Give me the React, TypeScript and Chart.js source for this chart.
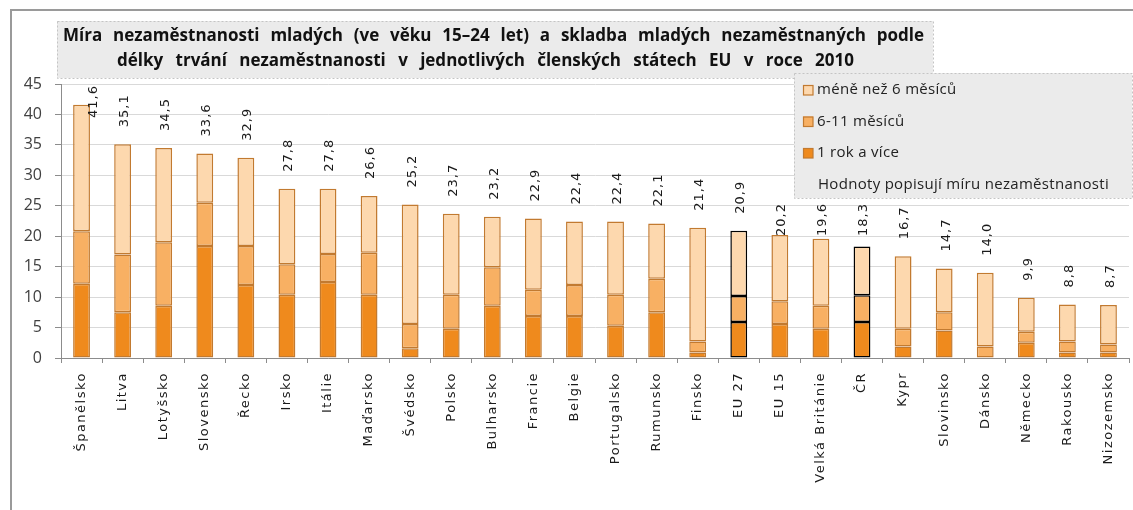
import React, { useEffect, useRef } from "react";
import { Chart, registerables } from "chart.js";
Chart.register(...registerables);

const categories = [
  "Španělsko", "Litva", "Lotyšsko", "Slovensko", "Řecko", "Irsko", "Itálie", "Maďarsko",
  "Švédsko", "Polsko", "Bulharsko", "Francie", "Belgie", "Portugalsko", "Rumunsko", "Finsko",
  "EU 27", "EU 15", "Velká Británie", "ČR", "Kypr", "Slovinsko", "Dánsko", "Německo",
  "Rakousko", "Nizozemsko",
];
// 1 rok a více
const longTerm = [12.2, 7.5, 8.6, 18.4, 12.0, 10.4, 12.5, 10.4, 1.6, 4.8, 8.6, 6.9, 6.9, 5.3, 7.5, 0.9, 5.9, 5.6, 4.8, 5.9, 1.9, 4.5, 0.0, 2.5, 0.9, 0.9];
// 6-11 měsíců
const midTerm = [8.6, 9.5, 10.4, 7.1, 6.4, 5.0, 4.6, 6.9, 4.0, 5.6, 6.3, 4.3, 5.1, 5.1, 5.5, 1.8, 4.3, 3.7, 3.8, 4.4, 2.9, 3.0, 1.9, 1.8, 1.8, 1.3];
// méně než 6 měsíců
const shortTerm = [20.8, 18.1, 15.5, 8.1, 14.5, 12.4, 10.7, 9.3, 19.6, 13.3, 8.3, 11.7, 10.4, 12.0, 9.1, 18.7, 10.7, 10.9, 11.0, 8.0, 11.9, 7.2, 12.1, 5.6, 6.1, 6.5];

const highlighted = ["EU 27", "ČR"];
const titleLines = [
  "Míra nezaměstnanosti mladých (ve věku 15–24 let) a skladba mladých nezaměstnaných podle",
  "délky trvání nezaměstnanosti v jednotlivých členských státech EU v roce 2010",
];
const legendLabels = ["méně než 6 měsíců", "6-11 měsíců", "1 rok a více"];
const legendNote = "Hodnoty popisují míru nezaměstnanosti";

const COLORS = {
  long: "#EF8A1D",
  mid: "#F8B063",
  short: "#FDD8AE",
  border: "#C27A30",
};

const LEGEND_BOX = { x: 794, y: 73, w: 338, h: 125 };

export default function App() {
  const ref = useRef<HTMLCanvasElement>(null);

  useEffect(() => {
    const canvas = ref.current!;

    const decor = {
      id: "decor",
      beforeDraw(chart: any) {
        const ctx = chart.ctx;
        ctx.save();
        ctx.fillStyle = "#ffffff";
        ctx.fillRect(0, 0, chart.width, chart.height);
        ctx.strokeStyle = "#9a9a9a";
        ctx.lineWidth = 2;
        ctx.beginPath();
        ctx.moveTo(11, 510);
        ctx.lineTo(11, 10);
        ctx.lineTo(1133, 10);
        ctx.stroke();
        ctx.restore();
      },
      afterDraw(chart: any) {
        const ctx = chart.ctx;
        const xs = chart.scales.x;
        const ys = chart.scales.y;
        const area = chart.chartArea;
        const lb = LEGEND_BOX;

        // value labels
        ctx.save();
        ctx.font = '13px "DejaVu Sans"';
        (ctx as any).letterSpacing = "1px";
        ctx.fillStyle = "#1a1a1a";
        ctx.textBaseline = "middle";
        ctx.textAlign = "left";
        categories.forEach((c, i) => {
          const total = longTerm[i] + midTerm[i] + shortTerm[i];
          const txt = total.toFixed(1).replace(".", ",");
          const w = ctx.measureText(txt).width;
          let x = xs.getPixelForValue(i) + 2;
          let bottom = ys.getPixelForValue(total) - 17;
          if (bottom - w < area.top) {
            bottom = area.top + w + 1;
            x += 10;
          }
          // keep clear of the legend box
          if (x + 8 > lb.x - 30 && bottom - w < lb.y + lb.h + 4) {
            bottom = lb.y + lb.h + 5 + w;
          }
          ctx.save();
          ctx.translate(x, bottom);
          ctx.rotate(-Math.PI / 2);
          ctx.fillText(txt, 0, 0);
          ctx.restore();
        });
        ctx.restore();

        // x labels
        ctx.save();
        ctx.font = '13px "DejaVu Sans"';
        (ctx as any).letterSpacing = "1.5px";
        ctx.fillStyle = "#1a1a1a";
        ctx.textBaseline = "middle";
        ctx.textAlign = "right";
        categories.forEach((c, i) => {
          const x = xs.getPixelForValue(i);
          ctx.save();
          ctx.translate(x, 372);
          ctx.rotate(-Math.PI / 2);
          ctx.fillText(c, 0, 0);
          ctx.restore();
        });
        ctx.restore();

        // title box
        ctx.save();
        ctx.fillStyle = "#EBEBEB";
        ctx.fillRect(57, 21, 876, 57);
        ctx.strokeStyle = "#C4C4C4";
        ctx.lineWidth = 1;
        ctx.setLineDash([2, 2]);
        ctx.strokeRect(57.5, 21.5, 876, 57);
        ctx.setLineDash([]);
        ctx.fillStyle = "#111";
        ctx.textBaseline = "middle";
        ctx.textAlign = "left";
        const starts = [63, 117];
        const widths = [861, 737];
        const ys2 = [36, 61];
        // size chosen so that line 1 fits with modest word gaps
        (ctx as any).wordSpacing = "3px";
        ctx.font = 'bold 16px "Open Sans"';
        let w0 = ctx.measureText(titleLines[0]).width;
        let size = Math.min(17, (16 * widths[0]) / w0);
        titleLines.forEach((line, k) => {
          ctx.font = `bold ${size}px "Open Sans"`;
          (ctx as any).wordSpacing = "0px";
          const w = ctx.measureText(line).width;
          const spaces = (line.match(/ /g) || []).length;
          const ws = Math.max(0, (widths[k] - w) / spaces);
          (ctx as any).wordSpacing = ws + "px";
          ctx.fillText(line, starts[k], ys2[k]);
        });
        (ctx as any).wordSpacing = "0px";
        ctx.restore();

        // legend box
        ctx.save();
        ctx.fillStyle = "#EBEBEB";
        ctx.fillRect(lb.x, lb.y, lb.w, lb.h);
        ctx.strokeStyle = "#C4C4C4";
        ctx.lineWidth = 1;
        ctx.setLineDash([2, 2]);
        ctx.strokeRect(lb.x + 0.5, lb.y + 0.5, lb.w, lb.h);
        ctx.setLineDash([]);
        const sw = [COLORS.short, COLORS.mid, COLORS.long];
        const rows = [90, 121.5, 153];
        ctx.font = '15px "Open Sans"';
        (ctx as any).letterSpacing = "0.3px";
        ctx.textBaseline = "middle";
        ctx.textAlign = "left";
        legendLabels.forEach((lab, k) => {
          ctx.fillStyle = sw[k];
          ctx.fillRect(803, rows[k] - 5, 10, 10);
          ctx.strokeStyle = COLORS.border;
          ctx.lineWidth = 1.2;
          ctx.strokeRect(803.5, rows[k] - 4.5, 9.5, 9.5);
          ctx.fillStyle = "#222";
          ctx.fillText(lab, 817, rows[k]);
        });
        ctx.fillStyle = "#222";
        ctx.fillText(legendNote, 818, 185);
        ctx.restore();
      },
    };

    const borderFor = (c: any) =>
      highlighted.includes(categories[c.dataIndex]) ? "#000000" : COLORS.border;

    const common = {
      borderColor: borderFor,
      borderWidth: 1.5,
      borderSkipped: false,
      barPercentage: 0.41,
      categoryPercentage: 1,
    };

    const chart = new Chart(canvas, {
      type: "bar",
      data: {
        labels: categories,
        datasets: [
          { label: legendLabels[2], data: longTerm, backgroundColor: COLORS.long, ...common } as any,
          { label: legendLabels[1], data: midTerm, backgroundColor: COLORS.mid, ...common } as any,
          { label: legendLabels[0], data: shortTerm, backgroundColor: COLORS.short, ...common } as any,
        ],
      },
      options: {
        responsive: false,
        animation: false,
        devicePixelRatio: 1,
        layout: { padding: { top: 84, right: 4, bottom: 0, left: 0 } },
        plugins: {
          legend: { display: false },
          title: { display: false },
          tooltip: { enabled: false },
        },
        scales: {
          x: {
            stacked: true,
            grid: {
              display: true,
              drawOnChartArea: false,
              drawTicks: true,
              tickLength: 5,
              tickColor: "#8c8c8c",
              offset: true,
            },
            border: { color: "#8c8c8c", width: 1 },
            ticks: { display: false, autoSkip: false },
            afterFit: (s: any) => {
              s.height = 152;
            },
          },
          y: {
            stacked: true,
            min: 0,
            max: 45,
            ticks: {
              stepSize: 5,
              font: { family: "Open Sans", size: 16 },
              color: "#404040",
              padding: 13,
            },
            grid: { color: "#d9d9d9", tickColor: "#8c8c8c", tickLength: 6 },
            border: { color: "#8c8c8c", width: 1 },
            afterFit: (s: any) => {
              s.width = 61;
            },
          },
        },
      } as any,
      plugins: [decor],
    });

    return () => chart.destroy();
  }, []);

  return (
    <div style={{ position: "fixed", left: 0, top: 0, width: 1133, height: 510, background: "#fff" }}>
      <canvas ref={ref} width={1133} height={510} style={{ display: "block", width: 1133, height: 510 }} />
    </div>
  );
}
